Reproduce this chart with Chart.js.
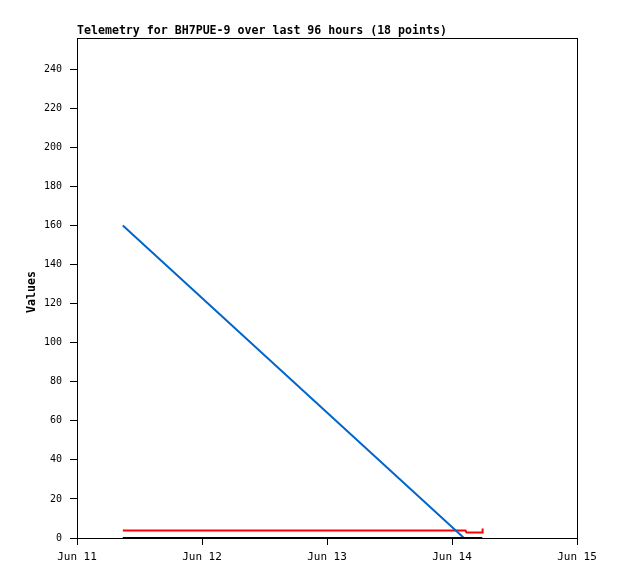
<!DOCTYPE html>
<html>
<head>
<meta charset="utf-8">
<script src="https://cdn.jsdelivr.net/npm/chart.js@4"></script>
<style>
  body { margin: 0; background: #fff; }
  canvas { display: block; }
</style>
</head>
<body>
<canvas id="chart" width="618" height="579"></canvas>
<script>
// hours since Jun 11 00:00
const hours = [8.8, 74.3, 74.6, 74.8, 75.2, 75.6, 76.0, 76.3, 76.6, 76.9, 77.1, 77.3, 77.5, 77.6, 77.7, 77.8, 77.85, 77.9];
const blueValues = [160, 0, 0, 0, 0, 0, 0, 0, 0, 0, 0, 0, 0, 0, 0, 0, 0, 0];
const redValues = [3.8, 3.8, 3.8, 2.8, 2.8, 2.8, 2.8, 2.8, 2.8, 2.8, 2.8, 2.8, 2.8, 2.8, 2.8, 2.8, 2.8, 4.9];
const blackValues = [0, 0, 0, 0, 0, 0, 0, 0, 0, 0, 0, 0, 0, 0, 0, 0, 0, 0];
const dayLabels = ['Jun 11', 'Jun 12', 'Jun 13', 'Jun 14', 'Jun 15'];
const titleText = 'Telemetry for BH7PUE-9 over last 96 hours (18 points)';

const toPoints = vals => vals.map((v, i) => ({ x: hours[i], y: v }));

const framePlugin = {
  id: 'frame',
  afterDraw(chart) {
    const { ctx, chartArea: a } = chart;
    ctx.save();
    ctx.strokeStyle = '#000';
    ctx.lineWidth = 1;
    ctx.strokeRect(a.left + 0.5, a.top + 0.5, a.right - a.left, a.bottom - a.top);
    ctx.fillStyle = '#000';
    ctx.font = 'bold 11.6px "DejaVu Sans Mono"';
    ctx.textBaseline = 'alphabetic';
    ctx.fillText(titleText, a.left, 34);
    ctx.translate(32, (a.top + a.bottom) / 2 + 4);
    ctx.rotate(-Math.PI / 2);
    ctx.textAlign = 'center';
    ctx.textBaseline = 'middle';
    ctx.fillText('Values', 0, 0);
    ctx.restore();
  }
};

const line = (data, color) => ({
  data: toPoints(data),
  borderColor: color,
  borderWidth: 2,
  pointRadius: 0,
  tension: 0,
  fill: false
});

new Chart(document.getElementById('chart'), {
  type: 'line',
  data: {
    datasets: [
      line(blackValues, '#000000'),
      line(blueValues, '#0066cc'),
      line(redValues, '#ff0000')
    ]
  },
  options: {
    responsive: false,
    animation: false,
    devicePixelRatio: 1,
    layout: { padding: { top: 38, right: 41, left: 0, bottom: 0 } },
    plugins: { legend: { display: false }, tooltip: { enabled: false } },
    scales: {
      x: {
        type: 'linear',
        min: 0,
        max: 96,
        afterFit: s => { s.height = 41; },
        border: { display: false },
        grid: { drawOnChartArea: false, color: '#000', tickLength: 7 },
        ticks: {
          stepSize: 24,
          padding: 6,
          color: '#000',
          font: { family: 'DejaVu Sans Mono', size: 11 },
          maxRotation: 0,
          callback: v => dayLabels[v / 24]
        }
      },
      y: {
        min: 0,
        max: 256,
        afterFit: s => { s.width = 77; },
        border: { display: false },
        grid: { drawOnChartArea: false, color: '#000', tickLength: 7 },
        ticks: {
          stepSize: 20,
          includeBounds: false,
          padding: 8,
          color: '#000',
          font: { family: 'DejaVu Sans Mono', size: 10 }
        }
      }
    }
  },
  plugins: [framePlugin]
});
</script>
</body>
</html>
